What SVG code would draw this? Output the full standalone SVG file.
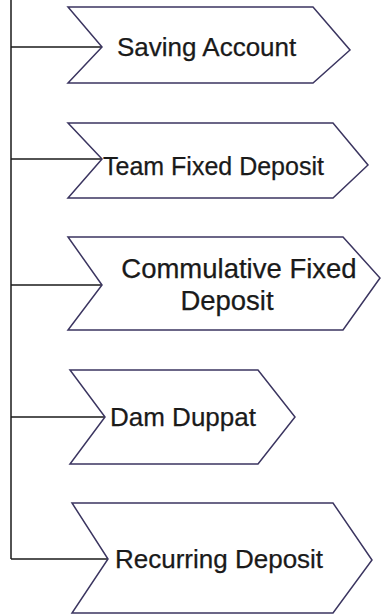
<svg xmlns="http://www.w3.org/2000/svg" width="382" height="615" viewBox="0 0 382 615">
<style>
.chev{fill:#ffffff;stroke:#3b3560;stroke-width:1.5;stroke-linejoin:miter}
.conn{stroke:#1a1a1a;stroke-width:1.5;fill:none}
.lbl{font-family:"Liberation Sans",Arial,sans-serif;font-size:26px;fill:#1a1a1a;stroke:#1a1a1a;stroke-width:0.25}
</style>
<rect width="382" height="615" fill="#ffffff"/>
<g id="connectors">
<path class="conn" d="M11,0 V559" stroke-width="2"/>
<path class="conn" d="M11,47 H102"/>
<path class="conn" d="M11,159 H102"/>
<path class="conn" d="M11,285 H102"/>
<path class="conn" d="M11,417 H105"/>
<path class="conn" d="M11,559 H108"/>
</g>
<g id="saving-account">
<polygon class="chev" points="68,7 313,7 350,50 313,83 68,83 102,47"/>
<text class="lbl" x="117" y="56">Saving Account</text>
</g>
<g id="team-fixed-deposit">
<polygon class="chev" points="68,123 333,123 368,165 333,198 68,198 102,159"/>
<text class="lbl" x="103" y="175" style="font-size:25px">Team Fixed Deposit</text>
</g>
<g id="commulative-fixed-deposit">
<polygon class="chev" points="68,237 343,237 380,278 343,330 68,330 102,285"/>
<text class="lbl" x="239" y="278" text-anchor="middle" style="font-size:27.5px">Commulative Fixed</text>
<text class="lbl" x="227" y="310" text-anchor="middle" style="font-size:27.5px">Deposit</text>
</g>
<g id="dam-duppat">
<polygon class="chev" points="70,370 258,370 295,417 258,464 70,464 105,417"/>
<text class="lbl" x="110" y="426">Dam Duppat</text>
</g>
<g id="recurring-deposit">
<polygon class="chev" points="72,503 333,503 372,560 333,613 72,613 108,559"/>
<text class="lbl" x="115" y="568">Recurring Deposit</text>
</g>
</svg>
